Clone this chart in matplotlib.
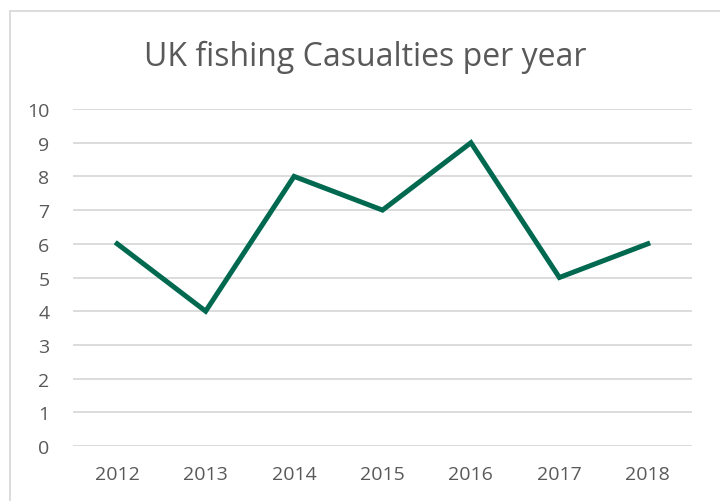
import matplotlib.pyplot as plt
from matplotlib.patches import Rectangle

years = ['2012', '2013', '2014', '2015', '2016', '2017', '2018']
casualties = [6, 4, 8, 7, 9, 5, 6]

plt.rcParams['font.family'] = ['Open Sans', 'DejaVu Sans']
text_col = '#595959'
grid_col = '#D9D9D9'

fig = plt.figure(figsize=(7.2, 5.02), dpi=100)
ax = fig.add_axes([73 / 720, 1 - 447 / 502, (692 - 73) / 720, (447 - 110) / 502])

x = list(range(len(years)))
ax.plot(x, casualties, color='#00694F', linewidth=3.6, solid_joinstyle='miter', zorder=3)

ax.set_xlim(-0.5, len(years) - 0.5)
ax.set_ylim(0, 10)
ax.set_yticks(range(0, 11))
ax.set_xticks(x)
ax.set_xticklabels(years)
ax.grid(axis='y', color=grid_col, linewidth=1.3)
ax.set_axisbelow(True)
for s in ax.spines.values():
    s.set_visible(False)
ax.tick_params(axis='both', length=0, colors=text_col, labelsize=14)
ax.tick_params(axis='y', pad=17)
ax.tick_params(axis='x', pad=14)

fig.text(365 / 720, 1 - 57 / 502, 'UK fishing Casualties per year', ha='center', va='center',
         fontsize=23, color=text_col)

# chart frame (cut off at right and bottom)
fig.patches.append(Rectangle((9.5 / 720, -0.1), 1.2, 1.1 - 11.5 / 502, transform=fig.transFigure,
                             fill=False, edgecolor=grid_col, linewidth=1.3))

fig.savefig('out.png', dpi=100)
